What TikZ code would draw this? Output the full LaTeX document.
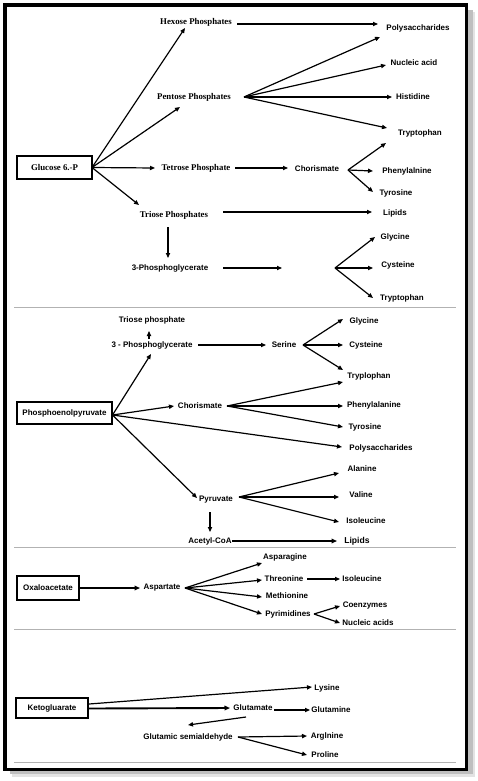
\documentclass[tikz,border=0pt]{standalone}
\usepackage{fontspec}
\setmainfont{Liberation Sans}
\newfontfamily\serifb{Liberation Serif}
\usetikzlibrary{arrows.meta,calc}
\tikzset{
  lab/.style={font=\bfseries\fontsize{8}{9}\selectfont, inner sep=0pt},
  slab/.style={font=\serifb\bfseries\fontsize{8.8}{10}\selectfont, inner sep=0pt},
  boxn/.style={draw, line width=1.4pt, font=\bfseries\fontsize{8}{9}\selectfont, inner sep=0pt},
  arr/.style={-{Triangle[length=5pt,width=4.2pt]}, line width=1.2pt},
  tarr/.style={-{Triangle[length=5.5pt,width=4.6pt]}, line width=1.9pt},
  sep/.style={draw=gray!60, line width=1pt}
}
\begin{document}
\begin{tikzpicture}[x=1pt,y=-1pt]
\useasboundingbox (0,0) rectangle (478,781);
% frame with shadow
\fill[gray!22] (470,12) rectangle (475,777);
\fill[gray!22] (12,772) rectangle (475,777);
\fill[gray!50] (468,10) rectangle (472.5,774);
\fill[gray!50] (10,771) rectangle (472.5,774);
\draw[line width=3.8pt] (5,5) rectangle (466.5,769.5);
% separators
\draw[sep] (14,307) -- (456,307);
\draw[sep] (14,547) -- (456,547);
\draw[sep] (14,629) -- (456,629);
\draw[sep] (14,762) -- (456,762);

% ---------------- top section
\node[boxn, line width=2.2pt, font=\serifb\bfseries\fontsize{8.8}{10}\selectfont, minimum width=75pt, minimum height=23pt] (glu) at (54.5,167.5) {Glucose 6.-P};
\node[slab] (hex) at (196,22) {Hexose Phosphates};
\node[slab] (pent) at (194,97) {Pentose Phosphates};
\node[slab] (tet) at (196,168) {Tetrose Phosphate};
\node[slab] (tri) at (174,215) {Triose Phosphates};
\node[lab] (pga) at (170,268) {3-Phosphoglycerate};
\node[lab] (polyA) at (418,28) {Polysaccharides};
\node[lab] (nuc) at (414,63) {Nucleic acid};
\node[lab] (his) at (413,97) {Histidine};
\node[lab] (trpA) at (420,133) {Tryptophan};
\node[lab] (chor) at (317,169) {Chorismate};
\node[lab] (phe) at (407,171) {Phenylalnine};
\node[lab] (tyr) at (396,193) {Tyrosine};
\node[lab] (lipA) at (395,213) {Lipids};
\node[lab] (gly) at (395,237) {Glycine};
\node[lab] (cys) at (398,265) {Cysteine};
\node[lab] (trpB) at (402,298) {Tryptophan};
\coordinate (pgaEnd) at (282,268);
\coordinate (forkG) at (335,268);

\draw[arr] ($(glu)+(37.5,0)$) -- ($(hex)+(-11,6)$);
\draw[arr] ($(glu)+(37.5,0)$) -- ($(pent)+(-14,10)$);
\draw[arr] ($(glu)+(37.5,0)$) -- ($(tet)+(-41,0)$);
\draw[arr] ($(glu)+(37.5,0)$) -- ($(tri)+(-35,-10)$);
\draw[arr] ($(hex)+(41,2)$) -- ($(polyA)+(-40,-4)$);
\draw[arr] ($(pent)+(50,0)$) -- ($(polyA)+(-38,9)$);
\draw[arr] ($(pent)+(50,0)$) -- ($(nuc)+(-28,2)$);
\draw[arr] ($(pent)+(50,0)$) -- ($(his)+(-21,0)$);
\draw[arr] ($(pent)+(50,0)$) -- ($(trpA)+(-33,-5)$);
\draw[arr] ($(tet)+(39,0)$) -- ($(chor)+(-29,-1)$);
\draw[arr] ($(chor)+(31,1)$) -- ($(trpA)+(-34,10)$);
\draw[arr] ($(chor)+(31,1)$) -- ($(phe)+(-34,0)$);
\draw[arr] ($(chor)+(31,1)$) -- ($(tyr)+(-23,-1)$);
\draw[arr] ($(tri)+(49,-3)$) -- ($(lipA)+(-23,-1)$);
\draw[arr] ($(tri)+(-6,12)$) -- ($(pga)+(-2,-10)$);
\draw[arr] ($(pga)+(53,0)$) -- (pgaEnd);
\draw[arr] (forkG) -- ($(gly)+(-20,0)$);
\draw[arr] (forkG) -- ($(cys)+(-25,3)$);
\draw[arr] (forkG) -- ($(trpB)+(-29,0)$);

% ---------------- middle section
\node[boxn, minimum width=95pt, minimum height=22pt] (pep) at (64.5,413) {Phosphoenolpyruvate};
\node[lab] (triP) at (152,320) {Triose phosphate};
\node[lab] (pgaB) at (152,345) {3 - Phosphoglycerate};
\node[lab] (ser) at (284,345) {Serine};
\node[lab] (glyB) at (364,321) {Glycine};
\node[lab] (cysB) at (366,345) {Cysteine};
\node[lab] (tryB) at (369,376) {Tryplophan};
\node[lab] (chorB) at (200,406) {Chorismate};
\node[lab] (pheB) at (374,405) {Phenylalanine};
\node[lab] (tyrB) at (365,427) {Tyrosine};
\node[lab] (polyB) at (381,448) {Polysaccharides};
\node[lab] (pyr) at (216,500) {Pyruvate};
\node[lab] (ala) at (362,469) {Alanine};
\node[lab] (val) at (361,495) {Valine};
\node[lab] (ile) at (366,521) {Isoleucine};
\node[lab] (acc) at (210,541) {Acetyl-CoA};
\node[lab, font=\bfseries\fontsize{8.6}{10}\selectfont] (lipB) at (357,541) {Lipids};

\draw[arr] ($(pgaB)+(-3,-6)$) -- ($(triP)+(-3,11)$);
\draw[arr] ($(pgaB)+(46,0)$) -- ($(ser)+(-18,0)$);
\draw[arr] ($(ser)+(19,0)$) -- ($(glyB)+(-21,-2)$);
\draw[arr] ($(ser)+(19,0)$) -- ($(cysB)+(-23,0)$);
\draw[arr] ($(ser)+(19,0)$) -- ($(tryB)+(-26,-6)$);
\draw[arr] ($(pep)+(48,2)$) -- ($(pgaB)+(-1,9)$);
\draw[arr] ($(pep)+(48,2)$) -- ($(chorB)+(-26,0)$);
\draw[arr] ($(pep)+(48,2)$) -- ($(polyB)+(-39,-1)$);
\draw[arr] ($(pep)+(48,2)$) -- ($(pyr)+(-19,-2)$);
\draw[arr] ($(chorB)+(27,0)$) -- ($(tryB)+(-26,6)$);
\draw[arr] ($(chorB)+(27,0)$) -- ($(pheB)+(-31,1)$);
\draw[arr] ($(chorB)+(27,0)$) -- ($(tyrB)+(-22,0)$);
\draw[arr] ($(pyr)+(23,-3)$) -- ($(ala)+(-23,4)$);
\draw[arr] ($(pyr)+(23,-3)$) -- ($(val)+(-22,2)$);
\draw[arr] ($(pyr)+(23,-3)$) -- ($(ile)+(-27,1)$);
\draw[arr] ($(pyr)+(-6,12)$) -- ($(acc)+(0,-9)$);
\draw[tarr] ($(acc)+(22,0)$) -- ($(lipB)+(-20,0)$);

% ---------------- oxaloacetate section
\node[boxn, minimum width=62pt, minimum height=24pt] (oxa) at (48,588) {Oxaloacetate};
\node[lab] (asp) at (162,588) {Aspartate};
\node[lab] (asn) at (285,557) {Asparagine};
\node[lab] (thr) at (284,579) {Threonine};
\node[lab] (ileB) at (362,579) {Isoleucine};
\node[lab] (met) at (287,596) {Methionine};
\node[lab] (pyrm) at (288,614) {Pyrimidines};
\node[lab] (coe) at (365,606) {Coenzymes};
\node[lab] (nucB) at (368,623) {Nucleic acids};

\draw[tarr] ($(oxa)+(31,0)$) -- ($(asp)+(-22,0)$);
\draw[arr] ($(asp)+(23,0)$) -- ($(asn)+(-23,6)$);
\draw[arr] ($(asp)+(23,0)$) -- ($(thr)+(-22,1)$);
\draw[arr] ($(asp)+(23,0)$) -- ($(met)+(-25,1)$);
\draw[arr] ($(asp)+(23,0)$) -- ($(pyrm)+(-26,0)$);
\draw[arr] ($(thr)+(23,0)$) -- ($(ileB)+(-22,0)$);
\draw[arr] ($(pyrm)+(26,0)$) -- ($(coe)+(-25,0)$);
\draw[arr] ($(pyrm)+(26,0)$) -- ($(nucB)+(-28,0)$);

% ---------------- ketogluarate section
\node[boxn, minimum width=72pt, minimum height=20pt] (keto) at (52,708) {Ketogluarate};
\node[lab] (lys) at (327,688) {Lysine};
\node[lab] (glu2) at (253,708) {Glutamate};
\node[lab] (gln) at (331,710) {Glutamine};
\node[lab] (gsa) at (188,737) {Glutamic semialdehyde};
\node[lab] (arg) at (327,736) {Arglnine};
\node[lab] (pro) at (325,755) {Proline};

\draw[arr] ($(keto)+(37,-4)$) -- ($(lys)+(-15,-1)$);
\draw[tarr] ($(keto)+(37,0.5)$) -- ($(glu2)+(-23,0)$);
\draw[arr] ($(glu2)+(21,2)$) -- ($(gln)+(-21,0)$);
\draw[arr] ($(glu2)+(-7,9)$) -- ($(gsa)+(0,-12)$);
\draw[arr] ($(gsa)+(50,0)$) -- ($(arg)+(-20,0)$);
\draw[arr] ($(gsa)+(50,0)$) -- ($(pro)+(-18,0)$);
\end{tikzpicture}
\end{document}
